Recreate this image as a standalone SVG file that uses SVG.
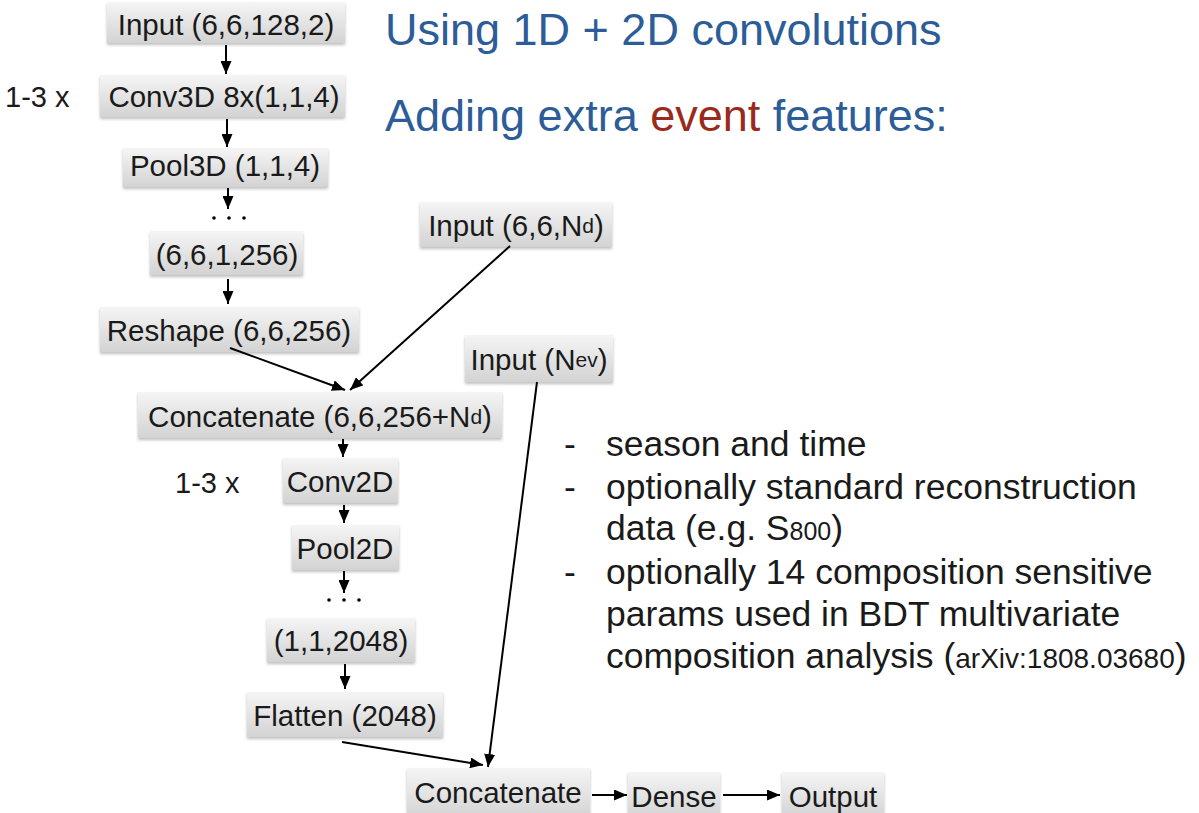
<svg xmlns="http://www.w3.org/2000/svg" width="1199" height="813" viewBox="0 0 1199 813">
<style>
.lbl{font-family:"Liberation Sans",Arial,sans-serif;font-size:29.5px;fill:#1a1a1a;text-anchor:middle;dominant-baseline:central}
.sub{font-size:21px}
.box{fill:url(#g);filter:url(#sh)}
.con{stroke:#000;stroke-width:2;fill:none;marker-end:url(#ah)}
.title{font-family:"Liberation Sans",Arial,sans-serif;font-size:45px;fill:#2c5d98}
.txt{font-family:"Liberation Sans",Arial,sans-serif;font-size:35.5px;fill:#1a1a1a}
.rep{font-family:"Liberation Sans",Arial,sans-serif;font-size:29px;fill:#1a1a1a;dominant-baseline:central}
</style>
<defs>
<linearGradient id="g" x1="0" y1="0" x2="0" y2="1">
<stop offset="0" stop-color="#f5f5f5"/>
<stop offset="1" stop-color="#d3d3d3"/>
</linearGradient>
<filter id="sh" x="-10%" y="-20%" width="120%" height="150%">
<feDropShadow dx="0" dy="2" stdDeviation="1.5" flood-color="#000" flood-opacity="0.25"/>
</filter>
<marker id="ah" markerUnits="userSpaceOnUse" markerWidth="13" markerHeight="11" refX="13" refY="5.5" orient="auto">
<path d="M0,0 L13,5.5 L0,11 z" fill="#000"/>
</marker>
</defs>
<rect width="1199" height="813" fill="#fff"/>

<text class="title" x="385" y="45">Using 1D + 2D convolutions</text>
<text class="title" x="385" y="131">Adding extra <tspan fill="#9a2a1c">event</tspan> features:</text>

<text class="rep" x="5" y="97">1-3 x</text>
<text class="rep" x="175" y="483">1-3 x</text>

<g id="n-input1"><rect class="box" x="107" y="2" width="238" height="41"/><text class="lbl" x="226" y="24">Input (6,6,128,2)</text></g>
<g id="n-conv3d"><rect class="box" x="100" y="75" width="245" height="42"/><text class="lbl" x="224" y="96">Conv3D 8x(1,1,4)</text></g>
<g id="n-pool3d"><rect class="box" x="123" y="148" width="205" height="39"/><text class="lbl" x="225" y="165">Pool3D (1,1,4)</text></g>
<g id="n-dots1"><circle cx="214" cy="218" r="1.8"/><circle cx="229" cy="218" r="1.8"/><circle cx="244" cy="218" r="1.8"/></g>
<g id="n-shape1"><rect class="box" x="150" y="231" width="153" height="44"/><text class="lbl" x="227" y="254">(6,6,1,256)</text></g>
<g id="n-reshape"><rect class="box" x="100" y="307" width="259" height="45"/><text class="lbl" x="229" y="330">Reshape (6,6,256)</text></g>
<g id="n-input2"><rect class="box" x="420" y="202" width="192" height="45"/><text class="lbl" x="516" y="225">Input (6,6,N<tspan class="sub">d</tspan>)</text></g>
<g id="n-input3"><rect class="box" x="465" y="335" width="148" height="47"/><text class="lbl" x="539" y="359">Input (N<tspan class="sub">ev</tspan>)</text></g>
<g id="n-concat1"><rect class="box" x="138" y="392" width="364" height="46"/><text class="lbl" x="320" y="416">Concatenate (6,6,256+N<tspan class="sub">d</tspan>)</text></g>
<g id="n-conv2d"><rect class="box" x="283" y="458" width="115" height="45"/><text class="lbl" x="340" y="481">Conv2D</text></g>
<g id="n-pool2d"><rect class="box" x="292" y="525" width="107" height="45"/><text class="lbl" x="345" y="548">Pool2D</text></g>
<g id="n-dots2"><circle cx="329" cy="600" r="1.8"/><circle cx="344" cy="600" r="1.8"/><circle cx="359" cy="600" r="1.8"/></g>
<g id="n-shape2"><rect class="box" x="267" y="618" width="148" height="44"/><text class="lbl" x="341" y="640">(1,1,2048)</text></g>
<g id="n-flatten"><rect class="box" x="247" y="692" width="196" height="45"/><text class="lbl" x="345" y="715">Flatten (2048)</text></g>
<g id="n-concat2"><rect class="box" x="407" y="768" width="183" height="50"/><text class="lbl" x="498" y="792">Concatenate</text></g>
<g id="n-dense"><rect class="box" x="628" y="772" width="92" height="46"/><text class="lbl" x="674" y="796">Dense</text></g>
<g id="n-output"><rect class="box" x="782" y="772" width="102" height="46"/><text class="lbl" x="833" y="796">Output</text></g>

<g id="connectors">
<line class="con" x1="226" y1="45" x2="226" y2="74"/>
<line class="con" x1="227" y1="119" x2="227" y2="147"/>
<line class="con" x1="228" y1="188" x2="228" y2="209"/>
<line class="con" x1="228" y1="279" x2="228" y2="304"/>
<line class="con" x1="230" y1="348" x2="345" y2="390"/>
<line class="con" x1="510" y1="246" x2="350" y2="390"/>
<line class="con" x1="343" y1="439" x2="343" y2="457"/>
<line class="con" x1="344" y1="505" x2="344" y2="523"/>
<line class="con" x1="344" y1="571" x2="344" y2="593"/>
<line class="con" x1="345" y1="664" x2="345" y2="689"/>
<line class="con" x1="342" y1="742" x2="483" y2="765"/>
<line class="con" x1="537" y1="382" x2="488" y2="767"/>
<line class="con" x1="592" y1="795" x2="627" y2="795"/>
<line class="con" x1="723" y1="795" x2="780" y2="795"/>
</g>

<g id="bullets">
<text class="txt" x="564" y="456">-</text>
<text class="txt" x="606" y="456">season and time</text>
<text class="txt" x="564" y="499">-</text>
<text class="txt" x="606" y="499">optionally standard reconstruction</text>
<text class="txt" x="606" y="540">data (e.g. S<tspan font-size="25px">800</tspan>)</text>
<text class="txt" x="564" y="584">-</text>
<text class="txt" x="606" y="584">optionally 14 composition sensitive</text>
<text class="txt" x="606" y="626">params used in BDT multivariate</text>
<text class="txt" x="606" y="668">composition analysis (<tspan font-size="28px">arXiv:1808.03680</tspan>)</text>
</g>
</svg>
